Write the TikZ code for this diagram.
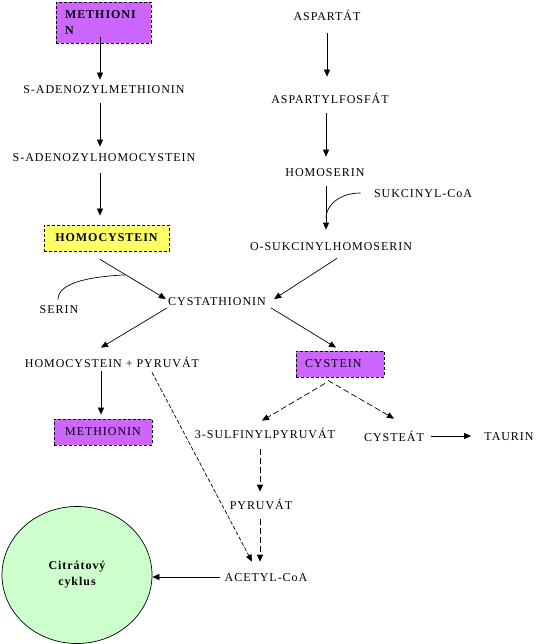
\documentclass[tikz,border=0pt]{standalone}
\usepackage{fontspec}
\setmainfont{Liberation Serif}[LetterSpace=8]
\usetikzlibrary{calc,shapes.geometric,arrows.meta}
\definecolor{violetbox}{HTML}{CC66FF}
\definecolor{yellowbox}{HTML}{FFFF66}
\definecolor{greencycle}{HTML}{CCFFCC}

\begin{document}
\begin{tikzpicture}[x=1pt,y=-1pt,line width=0.7pt]
      \tikzstyle{every node}+=[inner sep=0pt, font=\fontsize{12}{16}\selectfont]
      \tikzstyle{chem}=[text height=8pt, text depth=0pt]
      \tikzstyle{boxed}=[draw=black, line width=0.8pt, dash pattern=on 3pt off 2pt, minimum height=26pt]
      \tikzstyle{arr}=[black, -{Triangle[length=7pt,width=6pt]}]
      \tikzstyle{darr}=[arr, dash pattern=on 6pt off 3pt]
      \tikzstyle{farr}=[arr, dash pattern=on 4pt off 2pt]
      \useasboundingbox (0,0) rectangle (554,644);
      \node [boxed, fill=violetbox, minimum width=95pt, minimum height=41pt, text width=77pt, align=left, font=\bfseries\fontsize{12}{16}\selectfont] (met1) at (103.5,22.5) {METHIONI\\N};
      \node [chem] (sam) at (104,90) {S-ADENOZYLMETHIONIN};
      \node [chem] (sah) at (104,158) {S-ADENOZYLHOMOCYSTEIN};
      \node [boxed, fill=yellowbox, minimum width=125pt, font=\bfseries\fontsize{12}{16}\selectfont] (hcy) at (106.5,238) {HOMOCYSTEIN};
      \node [chem] (serin) at (59,309) {SERIN};
      \node [chem] (cysta) at (217,301) {CYSTATHIONIN};
      \node [chem] (asp) at (327,17) {ASPARTÁT};
      \node [chem] (aspp) at (330,100) {ASPARTYLFOSFÁT};
      \node [chem] (hser) at (325,173) {HOMOSERIN};
      \node [chem] (succoa) at (423,193) {SUKCINYL-CoA};
      \node [chem] (oshs) at (331,246) {O-SUKCINYLHOMOSERIN};
      \node [chem] (hcpyr) at (112,363) {HOMOCYSTEIN + PYRUVÁT};
      \node [boxed, fill=violetbox, minimum width=98pt] (met2) at (103,432) {METHIONIN};
      \node [boxed, fill=violetbox, minimum width=88pt, text width=70pt, align=left] (cys) at (340,364) {CYSTEIN};
      \node [chem] (sulf) at (265,434) {3-SULFINYLPYRUVÁT};
      \node [chem] (cysteat) at (394,437) {CYSTEÁT};
      \node [chem] (taurin) at (509,436) {TAURIN};
      \node [chem] (pyr) at (261,505) {PYRUVÁT};
      \node [chem] (acoa) at (266,577) {ACETYL-CoA};
      \node [ellipse, draw=black, fill=greencycle, minimum width=150pt, minimum height=137pt, align=center, font=\bfseries\fontsize{12}{16}\selectfont] (tca) at (77,575) {Citrátový\\cyklus};
      \draw [arr] ($(met1.south)+(-3.5,-6)$) -- ($(sam.north)+(-4,-6)$);
      \draw [arr] ($(sam.south)+(-4,9)$) -- ($(sah.north)+(-4,-7)$);
      \draw [arr] ($(sah.south)+(-4,11)$) -- ($(hcy.north)+(-6.5,-9)$);
      \draw [arr] ($(hcy.south)+(-6.5,8)$) -- coordinate[pos=0.39] (j1) ($(cysta.west)+(-2,-2)$);
      \draw [black] ($(serin.north)+(-1,-5)$) .. controls +(0,-16) and +(-40,2) .. (j1);
      \draw [arr] ($(asp.south)+(0,12)$) -- ($(aspp.north)+(-3,-19)$);
      \draw [arr] ($(aspp.south)+(-4,9)$) -- ($(hser.north)+(1,-12)$);
      \draw [arr] ($(hser.south)+(1,9)$) -- coordinate[pos=0.73] (j2) ($(oshs.north)+(-5,-12)$);
      \draw [black] ($(succoa.west)+(-13,0)$) .. controls +(-22,0) and +(0,-12) .. (j2);
      \draw [arr] ($(oshs.south)+(6,8)$) -- ($(cysta.east)+(8,-2)$);
      \draw [arr] ($(cysta.west)+(-1,7)$) -- ($(hcpyr.north)+(-11,-11)$);
      \draw [arr] ($(cysta.east)+(5,7)$) -- ($(cys.north)+(-4,-3)$);
      \draw [arr] ($(hcpyr.south)+(-11,4)$) -- ($(met2.north)+(-2,-4)$);
      \draw [farr] ($(hcpyr.south)+(40,5)$) -- ($(acoa.north)+(-14,-11)$);
      \draw [darr] ($(cys.south)+(-15,6)$) -- ($(sulf.north)+(-3,-9)$);
      \draw [darr] ($(cys.south)+(-12,3)$) -- ($(cysteat.north)+(0,-14)$);
      \draw [arr] ($(cysteat.east)+(7,-1)$) -- ($(taurin.west)+(-13,0)$);
      \draw [darr] ($(sulf.south)+(-5,11)$) -- ($(pyr.north)+(-1,-9)$);
      \draw [darr] ($(pyr.south)+(-1,10)$) -- ($(acoa.north)+(-6,-11)$);
      \draw [arr] ($(acoa.west)+(-4,0)$) -- ($(tca.east)+(0,2)$);
\end{tikzpicture}
\end{document}
